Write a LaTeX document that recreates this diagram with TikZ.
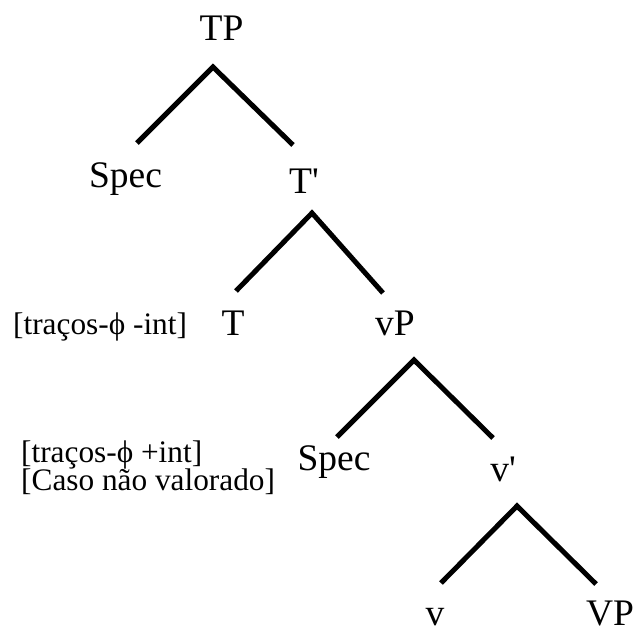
\documentclass[tikz,border=0pt]{standalone}
\usepackage{fontspec}
\setmainfont{Liberation Serif}[Ligatures=TeXOff]
\tikzset{
  big/.style={font=\fontsize{37.5}{40}\selectfont, inner sep=0pt, anchor=base},
  small/.style={font=\fontsize{31.3}{27}\selectfont, inner sep=0pt, anchor=base west, align=left},
  branch/.style={line width=5pt, line cap=butt, line join=miter}
}
\begin{document}
\begin{tikzpicture}[x=1pt,y=-1pt]
\useasboundingbox (0,0) rectangle (634,633);
% nodes
\node[big] (tp) at (221.5,40) {TP};
\node[big] (spec1) at (125.5,187) {Spec};
\node[big] (tbar) at (304,193) {T'};
\node[small] (feat1) at (13,334) {[traços-ϕ -int]};
\node[big] (t) at (233,335) {T};
\node[big] (vp) at (395,335) {vP};
\node[small] (feat2) at (21,462) {[traços-ϕ +int]};
\node[small] (caso) at (21,490) {[Caso não valorado]};
\node[big] (spec2) at (334,470) {Spec};
\node[big] (vbar) at (503,481) {v'};
\node[big] (v) at (435,625) {v};
\node[big] (VP) at (610,625) {VP};
% branch points
\coordinate (a1) at (213,67);
\coordinate (l1) at (137,143);
\coordinate (r1) at (293,145);
\coordinate (a2) at (312,213);
\coordinate (l2) at (236,291);
\coordinate (r2) at (383,293);
\coordinate (a3) at (414,360);
\coordinate (l3) at (337,437);
\coordinate (r3) at (493,438);
\coordinate (a4) at (517,506);
\coordinate (l4) at (441,583);
\coordinate (r4) at (596,584);
\draw[branch] (l1) -- (a1) -- (r1);
\draw[branch] (l2) -- (a2) -- (r2);
\draw[branch] (l3) -- (a3) -- (r3);
\draw[branch] (l4) -- (a4) -- (r4);
\end{tikzpicture}
\end{document}
